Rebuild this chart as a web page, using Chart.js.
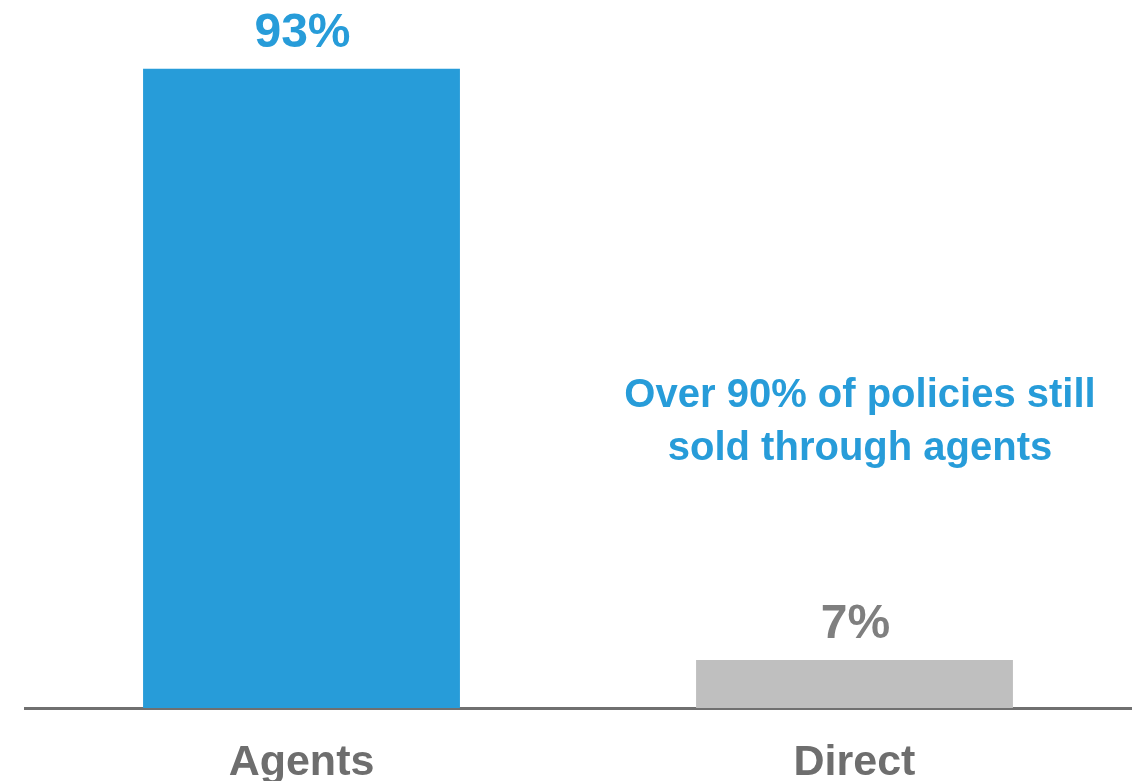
<!DOCTYPE html>
<html>
<head>
<meta charset="utf-8">
<script src="https://cdn.jsdelivr.net/npm/chart.js@4.4.1/dist/chart.umd.min.js"></script>
<style>
  html, body { margin: 0; padding: 0; background: #fff; }
  #wrap { width: 1137px; height: 781px; position: relative; }
</style>
</head>
<body>
<div id="wrap"><canvas id="channelChart"></canvas></div>
<script>
const categories = ['Agents', 'Direct'];
const shares = [93, 7];
const barColors = ['#279CD9', '#BFBFBF'];
const valueColors = ['#279CD9', '#7F7F7F'];
const noteLines = ['Over 90% of policies still', 'sold through agents'];

// draws "93%" / "7%" above each bar
const valueLabels = {
    id: 'valueLabels',
    afterDatasetsDraw(chart) {
        const ctx = chart.ctx;
        const meta = chart.getDatasetMeta(0);
        ctx.save();
        ctx.font = 'bold 48px "Liberation Sans", Arial, sans-serif';
        ctx.textAlign = 'center';
        ctx.textBaseline = 'alphabetic';
        meta.data.forEach(function(bar, i) {
            ctx.fillStyle = valueColors[i];
            ctx.fillText(shares[i] + '%', bar.x + 1, bar.y - 22);
        });
        ctx.restore();
    }
};

// callout text on the right
const note = {
    id: 'note',
    afterDraw(chart) {
        const ctx = chart.ctx;
        ctx.save();
        ctx.font = 'bold 40px "Liberation Sans", Arial, sans-serif';
        ctx.fillStyle = '#279CD9';
        ctx.textAlign = 'center';
        ctx.textBaseline = 'middle';
        const cx = 860;
        noteLines.forEach(function(line, i) {
            ctx.fillText(line, cx, 396 + i * 53);
        });
        ctx.restore();
    }
};

new Chart(document.getElementById('channelChart'), {
    type: 'bar',
    data: {
        labels: categories,
        datasets: [{
            data: shares,
            backgroundColor: barColors,
            barPercentage: 0.573,
            categoryPercentage: 1
        }]
    },
    options: {
        responsive: true,
        maintainAspectRatio: false,
        animation: false,
        layout: { padding: { left: 25, right: 6, top: 0, bottom: 0 } },
        plugins: {
            legend: { display: false },
            tooltip: { enabled: false }
        },
        scales: {
            x: {
                grid: { display: false, drawTicks: false },
                border: { display: true, color: '#707070', width: 3 },
                ticks: {
                    color: '#6E6E6E',
                    padding: 29,
                    font: { family: '"Liberation Sans", Arial, sans-serif', size: 43, weight: 'bold' }
                },
                afterFit(scale) { scale.height = 73; }
            },
            y: {
                display: false,
                min: 0,
                max: 103
            }
        }
    },
    plugins: [valueLabels, note]
});
</script>
</body>
</html>
